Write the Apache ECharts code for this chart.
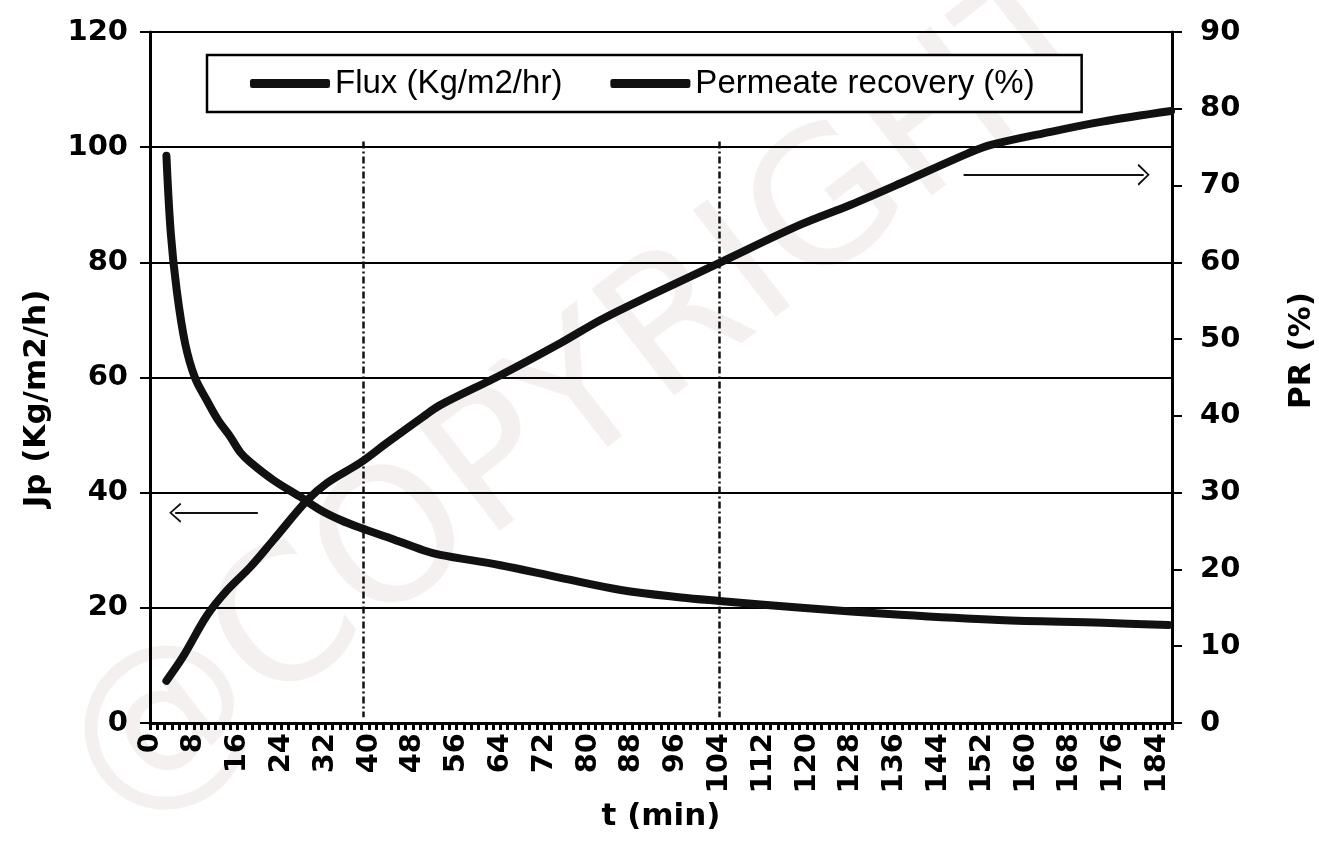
<!DOCTYPE html>
<html>
<head>
<meta charset="utf-8">
<script src="https://cdn.jsdelivr.net/npm/echarts@6/dist/echarts.min.js"></script>
<style>html,body{margin:0;padding:0;background:#fff}#c{width:1319px;height:846px}</style>
</head>
<body>
<div id="c"></div>
<script>
// ---- data ----
const fluxTime = [3.0, 3.8, 4.9, 6.4, 8.2, 10.4, 12.5, 14.6, 16.5, 18.3, 22.5, 27.4, 31.1, 34.7, 38.4, 43.9, 49.9, 53, 64, 75, 86, 97, 104, 119, 137, 155, 174, 186];
const fluxValues = [98.5, 85, 75, 66, 60, 56, 52.5, 49.8, 47, 45.3, 42.2, 39.3, 37, 35.3, 33.9, 32.1, 30.0, 29.2, 27.4, 25.2, 23.1, 21.8, 21.2, 20.0, 18.8, 17.9, 17.4, 17.0];
const prTime = [3.0, 6.0, 10.4, 14.1, 18.3, 22.5, 28.7, 32.4, 38.4, 43.3, 49.9, 53, 64, 75, 82.3, 91.4, 104.2, 118.8, 128, 137.1, 149.4, 153.6, 164.5, 173.7, 186.5];
const prValues = [5.5, 8.6, 14.0, 17.3, 20.3, 23.8, 29.0, 31.3, 33.9, 36.5, 39.9, 41.4, 45.3, 49.5, 52.5, 55.7, 60.0, 64.9, 67.5, 70.3, 74.2, 75.3, 77.0, 78.3, 79.7];
const seriesNames = ['Flux (Kg/m2/hr)', 'Permeate recovery (%)'];
const dividerTimes = [39, 104];          // vertical dash-dot lines (min)
const dividerRange = [101, 1];           // their extent on the left axis
const leftArrow = [[19.7, 36.5], [4.6, 36.5]];   // (t, Jp)
const rightArrow = [[148.6, 95.2], [181.5, 95.2]]; // (t, Jp)
const xMax = 560 / 3;

const chevron = 'path://M0,90 L50,0 L100,90 L91,97 L50,20 L9,97 Z';
const bold = {fontFamily: 'DejaVu Sans', fontWeight: 'bold', color: '#000'};

const markData = dividerTimes.map(t => [
  {coord: [t, dividerRange[0]], symbol: 'none'},
  {coord: [t, dividerRange[1]], symbol: 'none'}
]);
markData.push([
  {coord: leftArrow[0], symbol: 'none', lineStyle: {type: 'solid', width: 2}},
  {coord: leftArrow[1], symbol: chevron, symbolSize: [20, 12]}
]);
markData.push([
  {coord: rightArrow[0], symbol: 'none', lineStyle: {type: 'solid', width: 2}},
  {coord: rightArrow[1], symbol: chevron, symbolSize: [22, 12]}
]);

const chart = echarts.init(document.getElementById('c'), null, {renderer: 'canvas'});
chart.setOption({
  backgroundColor: '#fff',
  animation: false,
  graphic: [{
    type: 'text', x: 590, y: 400, rotation: 0.66, z: -10, silent: true,
    style: {text: '@COPYRIGHT', fontSize: 185, fontFamily: 'DejaVu Sans', fill: 'rgba(120,60,70,0.08)',
            textAlign: 'center', textVerticalAlign: 'middle'}
  }],
  grid: {left: 150, right: 147, top: 32, bottom: 123, containLabel: false, outerBoundsMode: 'none'},
  legend: {
    data: seriesNames, left: 207, top: 55, padding: [12, 47, 12, 43], itemGap: 48,
    itemWidth: 80, itemHeight: 9, icon: 'roundRect',
    borderColor: '#000', borderWidth: 2.5, backgroundColor: '#fff',
    textStyle: {fontFamily: 'Liberation Sans', fontSize: 33, color: '#000'}
  },
  xAxis: {
    type: 'value', min: 0, max: xMax, interval: 8,
    name: 't (min)', nameLocation: 'middle', nameGap: 60,
    nameTextStyle: Object.assign({fontSize: 31}, bold),
    axisLine: {show: true, lineStyle: {color: '#000', width: 3}},
    axisTick: {show: true, length: 7, lineStyle: {color: '#000', width: 3}},
    minorTick: {show: true, splitNumber: 6, length: 7, lineStyle: {color: '#000', width: 3}},
    axisLabel: Object.assign({rotate: 90, showMaxLabel: false, fontSize: 29, margin: 10}, bold),
    splitLine: {show: false}
  },
  yAxis: [{
    type: 'value', min: 0, max: 120, interval: 20, position: 'left',
    name: 'Jp (Kg/m2/h)', nameLocation: 'middle', nameGap: 98, nameRotate: 90,
    nameTextStyle: Object.assign({fontSize: 31, padding: [0, 42, 0, 0]}, bold),
    axisLine: {show: true, lineStyle: {color: '#000', width: 3}},
    axisTick: {show: true, length: 10, lineStyle: {color: '#000', width: 2}},
    axisLabel: Object.assign({fontSize: 29, margin: 22}, bold),
    splitLine: {show: true, lineStyle: {color: '#000', width: 2}}
  }, {
    type: 'value', min: 0, max: 90, interval: 10, position: 'right',
    name: 'PR (%)', nameLocation: 'middle', nameGap: 114, nameRotate: 90,
    nameTextStyle: Object.assign({fontSize: 31, padding: [0, 0, 0, 54]}, bold),
    axisLine: {show: true, lineStyle: {color: '#000', width: 3}},
    axisTick: {show: true, length: 10, lineStyle: {color: '#000', width: 2}},
    axisLabel: Object.assign({fontSize: 29, margin: 28}, bold),
    splitLine: {show: false}
  }],
  series: [{
    name: seriesNames[0], type: 'line', yAxisIndex: 0, smooth: 0.35,
    showSymbol: false, symbol: 'none',
    itemStyle: {color: '#111'},
    lineStyle: {color: '#111', width: 8, cap: 'round', join: 'round'},
    data: fluxTime.map((t, i) => [t, fluxValues[i]]),
    markLine: {
      silent: true, animation: false, symbol: 'none',
      label: {show: false},
      lineStyle: {color: '#111', width: 2.5, type: [7, 3, 2, 3]},
      emphasis: {disabled: true},
      data: markData
    },
    z: 3
  }, {
    name: seriesNames[1], type: 'line', yAxisIndex: 1, smooth: 0.35,
    showSymbol: false, symbol: 'none',
    itemStyle: {color: '#111'},
    lineStyle: {color: '#111', width: 8, cap: 'round', join: 'round'},
    data: prTime.map((t, i) => [t, prValues[i]]),
    z: 3
  }]
});
</script>
</body>
</html>
